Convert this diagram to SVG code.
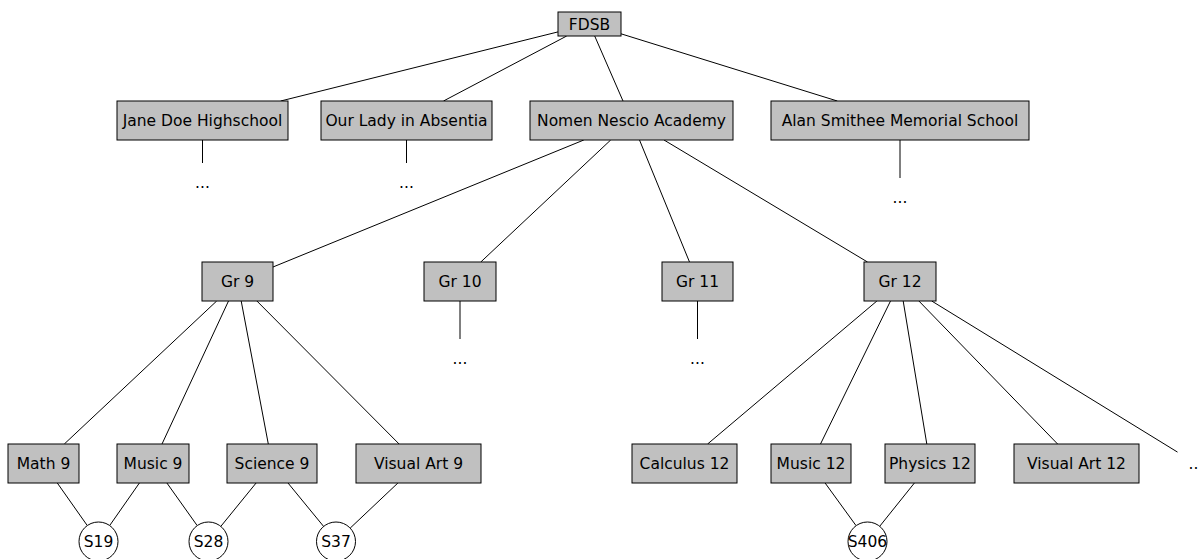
<svg xmlns="http://www.w3.org/2000/svg" width="1199" height="559" viewBox="0 0 1199 559">
  <style>
    .box { fill: #c0c0c0; stroke: #000; stroke-width: 1; }
    .circ { fill: #fff; stroke: #000; stroke-width: 1; }
    .lbl { font-family: "DejaVu Sans", "Liberation Sans", sans-serif; font-size: 15.5px; fill: #000; text-anchor: middle; }
    .edges line { stroke: #000; stroke-width: 1; }
  </style>
  <rect width="1199" height="559" fill="#fff"/>

  <!-- connectors -->
  <g id="edges" class="edges">
    <line x1="558" y1="31.9" x2="280.7" y2="101"/>
    <line x1="566.7" y1="36" x2="443.5" y2="101"/>
    <line x1="594.7" y1="36" x2="623" y2="101"/>
    <line x1="621" y1="33.8" x2="837.3" y2="101"/>
    <line x1="202.5" y1="140" x2="202.5" y2="163"/>
    <line x1="406.5" y1="140" x2="406.5" y2="163"/>
    <line x1="900" y1="140" x2="900" y2="178"/>
    <line x1="583.8" y1="140" x2="273" y2="267"/>
    <line x1="610.7" y1="140" x2="480.8" y2="262"/>
    <line x1="639.5" y1="140" x2="689.5" y2="262"/>
    <line x1="664" y1="140" x2="867.5" y2="262"/>
    <line x1="460" y1="301" x2="460" y2="339"/>
    <line x1="697.5" y1="301" x2="697.5" y2="339"/>
    <line x1="216.7" y1="301" x2="64.3" y2="444"/>
    <line x1="228.5" y1="301" x2="162" y2="444"/>
    <line x1="241.2" y1="301" x2="268.3" y2="444"/>
    <line x1="256.9" y1="301" x2="399.1" y2="444"/>
    <line x1="876.9" y1="301" x2="707.6" y2="444"/>
    <line x1="890.5" y1="301" x2="820.5" y2="444"/>
    <line x1="903.2" y1="301" x2="926.8" y2="444"/>
    <line x1="918.9" y1="301" x2="1057.6" y2="444"/>
    <line x1="931.7" y1="301" x2="1177.5" y2="452.1"/>
    <line x1="57.3" y1="483" x2="87.3" y2="525.6"/>
    <line x1="139.4" y1="483" x2="109.7" y2="525.5"/>
    <line x1="166.9" y1="483" x2="197.2" y2="525.6"/>
    <line x1="256.1" y1="483" x2="220.8" y2="526.4"/>
    <line x1="288" y1="483" x2="323.6" y2="526.4"/>
    <line x1="397.9" y1="483" x2="350.2" y2="528.1"/>
    <line x1="825.1" y1="483" x2="856.1" y2="525.7"/>
    <line x1="914.4" y1="483" x2="879.7" y2="526.3"/>
  </g>

  <!-- board -->
  <g id="fdsb"><rect class="box" x="558" y="12" width="63" height="24"/><text class="lbl" x="589.5" y="29.6">FDSB</text></g>

  <!-- schools -->
  <g id="jane-doe"><rect class="box" x="117" y="101" width="171" height="39"/><text class="lbl" x="202.5" y="126.1">Jane Doe Highschool</text></g>
  <g id="our-lady"><rect class="box" x="321" y="101" width="171" height="39"/><text class="lbl" x="406.5" y="126.1">Our Lady in Absentia</text></g>
  <g id="nomen-nescio"><rect class="box" x="530" y="101" width="203" height="39"/><text class="lbl" x="631.5" y="126.1">Nomen Nescio Academy</text></g>
  <g id="alan-smithee"><rect class="box" x="771" y="101" width="258" height="39"/><text class="lbl" x="900" y="126.1">Alan Smithee Memorial School</text></g>
  <g id="jane-doe-more"><text class="lbl" x="202.5" y="188">...</text></g>
  <g id="our-lady-more"><text class="lbl" x="406.5" y="188">...</text></g>
  <g id="alan-smithee-more"><text class="lbl" x="900" y="203">...</text></g>

  <!-- grades -->
  <g id="gr9"><rect class="box" x="202" y="262" width="71" height="39"/><text class="lbl" x="237.5" y="287.1">Gr 9</text></g>
  <g id="gr10"><rect class="box" x="424" y="262" width="72" height="39"/><text class="lbl" x="460" y="287.1">Gr 10</text></g>
  <g id="gr11"><rect class="box" x="662" y="262" width="71" height="39"/><text class="lbl" x="697.5" y="287.1">Gr 11</text></g>
  <g id="gr12"><rect class="box" x="864" y="262" width="72" height="39"/><text class="lbl" x="900" y="287.1">Gr 12</text></g>
  <g id="gr10-more"><text class="lbl" x="460" y="364">...</text></g>
  <g id="gr11-more"><text class="lbl" x="697.5" y="364">...</text></g>

  <!-- courses -->
  <g id="math9"><rect class="box" x="8" y="444" width="71" height="39"/><text class="lbl" x="43.5" y="469.1">Math 9</text></g>
  <g id="music9"><rect class="box" x="117" y="444" width="72" height="39"/><text class="lbl" x="153" y="469.1">Music 9</text></g>
  <g id="science9"><rect class="box" x="227" y="444" width="90" height="39"/><text class="lbl" x="272" y="469.1">Science 9</text></g>
  <g id="visualart9"><rect class="box" x="356" y="444" width="125" height="39"/><text class="lbl" x="418.5" y="469.1">Visual Art 9</text></g>
  <g id="calculus12"><rect class="box" x="632" y="444" width="105" height="39"/><text class="lbl" x="684.5" y="469.1">Calculus 12</text></g>
  <g id="music12"><rect class="box" x="771" y="444" width="80" height="39"/><text class="lbl" x="811" y="469.1">Music 12</text></g>
  <g id="physics12"><rect class="box" x="885" y="444" width="90" height="39"/><text class="lbl" x="930" y="469.1">Physics 12</text></g>
  <g id="visualart12"><rect class="box" x="1014" y="444" width="125" height="39"/><text class="lbl" x="1076.5" y="469.1">Visual Art 12</text></g>
  <g id="gr12-more"><text class="lbl" x="1196" y="469.1">...</text></g>

  <!-- shared sections -->
  <g id="s19"><circle class="circ" cx="98.5" cy="541.5" r="19.5"/><text class="lbl" x="98.5" y="547.1">S19</text></g>
  <g id="s28"><circle class="circ" cx="208.5" cy="541.5" r="19.5"/><text class="lbl" x="208.5" y="547.1">S28</text></g>
  <g id="s37"><circle class="circ" cx="336" cy="541.5" r="19.5"/><text class="lbl" x="336" y="547.1">S37</text></g>
  <g id="s406"><circle class="circ" cx="867.5" cy="541.5" r="19.5"/><text class="lbl" x="867.5" y="547.1">S406</text></g>
</svg>
